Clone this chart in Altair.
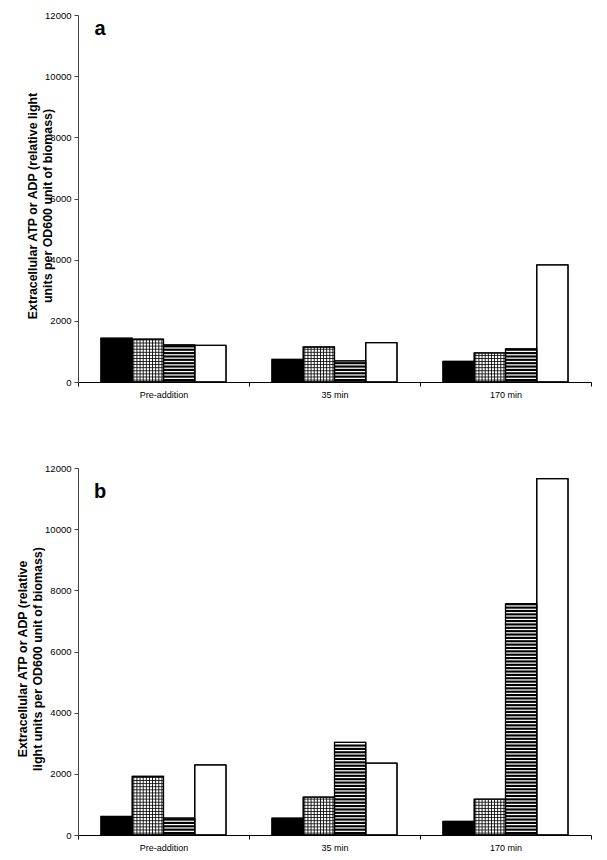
import altair as alt
import pandas as pd

groups = ["Pre-addition", "35 min", "170 min"]
series = ["S1", "S2", "S3", "S4"]  # solid black, checkered, horizontal stripes, open
y_ticks = [0, 2000, 4000, 6000, 8000, 10000, 12000]

a_s1 = [1430, 740, 675]
a_s2 = [1400, 1145, 950]
a_s3 = [1210, 690, 1080]
a_s4 = [1200, 1285, 3830]

b_s1 = [605, 550, 445]
b_s2 = [1920, 1240, 1170]
b_s3 = [555, 3030, 7555]
b_s4 = [2290, 2350, 11650]

title_a = ["Extracellular ATP or ADP (relative light", "units per OD600 unit of biomass)"]
title_b = ["Extracellular ATP or ADP (relative", "light units per OD600 unit of biomass)"]

W, H = 513, 367
FONT = "Liberation Sans"
NCOL = 10   # vertical lines of the checkered pattern per bar
NPAD = 7    # empty slots either side (matches the outer padding of the bars)
NSLOT = 2 * NPAD + len(series) * NCOL
slots = list(range(NSLOT))


def to_long(*cols):
    rows = []
    for s, vals in zip(series, cols):
        for g, v in zip(groups, vals):
            rows.append({"group": g, "series": s, "value": v})
    return pd.DataFrame(rows)


def panel(df, letter, letter_y, title, title_pad):
    def X():
        return alt.X("group:N", sort=groups,
                     scale=alt.Scale(domain=groups, paddingInner=0, paddingOuter=0),
                     axis=alt.Axis(title=None, labelAngle=0, tickBand="extent",
                                   tickSize=4, labelPadding=4, labelFontSize=9,
                                   domainColor="black", tickColor="black",
                                   labelColor="black", labelFont=FONT, grid=False))

    def XO():
        return alt.XOffset("series:N", sort=series,
                           scale=alt.Scale(domain=series, paddingInner=0,
                                           paddingOuter=0.735))

    def Y(field):
        return alt.Y(field, scale=alt.Scale(domain=[0, 12000], nice=False),
                     axis=alt.Axis(values=y_ticks, format="d", title=title,
                                   titleFont=FONT, titleFontSize=12.4,
                                   titleFontWeight="bold", titleColor="black",
                                   titlePadding=title_pad, titleLineHeight=15,
                                   titleY=H / 2 + 7,
                                   labelFontSize=9.5, labelFont=FONT,
                                   labelColor="black", tickSize=4,
                                   labelPadding=3, domainColor="#444",
                                   tickColor="#444", grid=False))

    base = alt.Chart(df)

    bars = base.mark_bar(stroke="black", strokeWidth=1).encode(
        x=X(), xOffset=XO(), y=Y("value:Q"),
        fill=alt.Fill("series:N", scale=alt.Scale(domain=series,
                      range=["black", "white", "white", "white"]), legend=None),
    )

    stripes = (
        base.transform_filter(alt.datum.series == "S3")
        .transform_calculate(s="sequence(30, datum.value - 40, 110)")
        .transform_flatten(["s"])
        .transform_calculate(s2="datum.s + 70")
        .mark_bar(color="black")
        .encode(x=X(), xOffset=XO(), y=Y("s:Q"), y2="s2:Q")
    )

    grid_h = (
        base.transform_filter(alt.datum.series == "S2")
        .transform_calculate(s="sequence(50, datum.value - 20, 101)")
        .transform_flatten(["s"])
        .transform_calculate(s2="datum.s + 26")
        .mark_bar(color="black")
        .encode(x=X(), xOffset=XO(), y=Y("s:Q"), y2="s2:Q")
    )

    grid_v = (
        base.transform_filter(alt.datum.series == "S2")
        .transform_calculate(k=f"sequence(0, {NCOL})")
        .transform_flatten(["k"])
        .transform_calculate(
            slot=f"{NPAD} + indexof({series!r}, datum.series) * {NCOL} + datum.k")
        .mark_bar(color="black", width=0.85)
        .encode(x=X(),
                xOffset=alt.XOffset("slot:O", sort=slots,
                                    scale=alt.Scale(domain=slots, paddingInner=0,
                                                    paddingOuter=0.35)),
                y=Y("value:Q"))
    )

    outline = base.mark_bar(fillOpacity=0, stroke="black", strokeWidth=1.3).encode(
        x=X(), xOffset=XO(), y=Y("value:Q"))

    label = alt.Chart(pd.DataFrame({"t": [letter]})).mark_text(
        font=FONT, fontSize=20, fontWeight="bold", align="center",
        baseline="alphabetic", color="black"
    ).encode(text="t:N", x=alt.value(22), y=alt.value(letter_y))

    return alt.layer(bars, stripes, grid_h, grid_v, outline, label).resolve_scale(
        xOffset="independent").properties(width=W, height=H)


pa = panel(to_long(a_s1, a_s2, a_s3, a_s4), "a", 20, title_a, -10)
pb = panel(to_long(b_s1, b_s2, b_s3, b_s4), "b", 30, title_b, 0)

chart = alt.vconcat(pa, pb, spacing=86, bounds="flush").properties(
    padding={"left": 8, "top": 2, "right": 0, "bottom": 0}
).configure_view(stroke=None)

chart.save("out.html", embed_options={"renderer": "svg", "actions": False})
